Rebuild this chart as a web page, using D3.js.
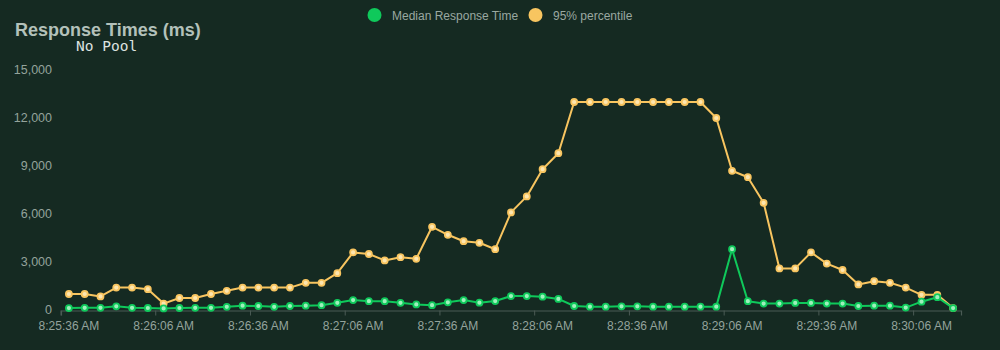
<!DOCTYPE html>
<html>
<head>
<meta charset="utf-8">
<script src="https://cdn.jsdelivr.net/npm/d3@7/dist/d3.min.js"></script>
<style>
  html, body { margin: 0; padding: 0; background: #152a22; }
  svg { display: block; }
  text { font-family: "Liberation Sans", Arial, Helvetica, sans-serif; }
</style>
</head>
<body>
<svg id="chart" width="1000" height="350"></svg>
<script>
// Sample timestamps (one sample every 5 seconds), used as categories
const times = [
  "08:25:36","08:25:41","08:25:46","08:25:51","08:25:56","08:26:01","08:26:06","08:26:11",
  "08:26:16","08:26:21","08:26:26","08:26:31","08:26:36","08:26:41","08:26:46","08:26:51",
  "08:26:56","08:27:01","08:27:06","08:27:11","08:27:16","08:27:21","08:27:26","08:27:31",
  "08:27:36","08:27:41","08:27:46","08:27:51","08:27:56","08:28:01","08:28:06","08:28:11",
  "08:28:16","08:28:21","08:28:26","08:28:31","08:28:36","08:28:41","08:28:46","08:28:51",
  "08:28:56","08:29:01","08:29:06","08:29:11","08:29:16","08:29:21","08:29:26","08:29:31",
  "08:29:36","08:29:41","08:29:46","08:29:51","08:29:56","08:30:01","08:30:06","08:30:11",
  "08:30:16"
];

// Median response time (ms)
const median = [
  120, 135, 135, 230, 135, 125, 100, 125, 135, 135, 200, 270, 250, 200, 250, 270,
  300, 450, 620, 550, 550, 450, 350, 300, 480, 620, 460, 560, 870, 870, 830, 690,
  250, 210, 210, 230, 230, 210, 210, 210, 210, 210, 3800, 550, 400, 400, 440, 440,
  400, 400, 250, 270, 270, 150, 520, 800, 120
];

// 95th percentile response time (ms)
const p95 = [
  1000, 1000, 850, 1400, 1400, 1300, 400, 750, 750, 1000, 1200, 1400, 1400, 1400, 1400, 1700,
  1700, 2300, 3600, 3500, 3100, 3300, 3200, 5200, 4700, 4300, 4200, 3800, 6100, 7100, 8800, 9800,
  13000, 13000, 13000, 13000, 13000, 13000, 13000, 13000, 13000, 12000, 8700, 8300, 6700, 2600, 2600, 3600,
  2900, 2500, 1600, 1800, 1700, 1400, 950, 950, 120
];

const yTicks = [0, 3000, 6000, 9000, 12000, 15000];
const xTickLabels = ["08:25:36","08:26:06","08:26:36","08:27:06","08:27:36","08:28:06","08:28:36","08:29:06","08:29:36","08:30:06"];

const seriesNames = ["Median Response Time", "95% percentile"];
const seriesColors = ["#0fc95b", "#f8c560"];
const markerFills = ["#9ff0bd", "#fde6b0"];

const parse = d3.timeParse("%H:%M:%S");
const fmt = d3.timeFormat("%-I:%M:%S %p");
const svg = d3.select("#chart");

const margin = { left: 61, right: 39, top: 70, bottom: 40 };
const W = 1000, H = 350;

// Category axis: each sample owns a band, marks sit at the band centre
const x = d3.scaleBand()
  .domain(times)
  .range([margin.left, W - margin.right])
  .padding(0);
const bw = x.bandwidth();
const cx = t => x(t) + bw / 2;

const y = d3.scaleLinear()
  .domain([0, 15000])
  .range([H - margin.bottom, margin.top]);

// Title and subtitle
svg.append("text")
  .attr("x", 15).attr("y", 36)
  .attr("fill", "#b3c1ba")
  .attr("font-size", 18)
  .attr("font-weight", "bold")
  .text("Response Times (ms)");

svg.append("text")
  .attr("x", 76).attr("y", 51)
  .attr("fill", "#dde3e0")
  .attr("font-size", 14.5)
  .style("font-family", "'DejaVu Sans Mono', 'Liberation Mono', monospace")
  .text("No Pool");

// Legend
const legendItems = [
  { cx: 374.5, tx: 392, name: seriesNames[0], color: seriesColors[0] },
  { cx: 535.5, tx: 553, name: seriesNames[1], color: seriesColors[1] }
];
const lg = svg.append("g");
legendItems.forEach(it => {
  lg.append("circle").attr("cx", it.cx).attr("cy", 15).attr("r", 7).attr("fill", it.color);
  lg.append("text").attr("x", it.tx).attr("y", 19.5)
    .attr("fill", "#9aa8a1").attr("font-size", 12).text(it.name);
});

// Y axis (labels only)
const yAxis = d3.axisLeft(y)
  .tickValues(yTicks)
  .tickSize(0)
  .tickPadding(9)
  .tickFormat(d3.format(","));
const gy = svg.append("g")
  .attr("transform", `translate(${margin.left},0)`)
  .call(yAxis);
gy.select(".domain").remove();
gy.selectAll("text")
  .attr("fill", "#94a39c")
  .attr("font-size", 12.5)
  .attr("dy", "0.25em")
  .style("font-family", "'Liberation Sans', Arial, sans-serif");

// X axis: labels centred on their band, tick marks on the band's left edge
const xAxis = d3.axisBottom(x)
  .tickValues(xTickLabels)
  .tickSizeInner(5)
  .tickSizeOuter(5)
  .tickPadding(6)
  .tickFormat(d => fmt(parse(d)));
const gx = svg.append("g")
  .attr("transform", `translate(0,${y(0) + 0.5})`)
  .call(xAxis);
gx.select(".domain").attr("stroke", "#4b5b55").attr("stroke-width", 1.2);
gx.selectAll(".tick line")
  .attr("stroke", "#4b5b55")
  .attr("x1", -bw / 2).attr("x2", -bw / 2);
gx.selectAll("text")
  .attr("fill", "#94a39c")
  .attr("font-size", 12)
  .style("font-family", "'Liberation Sans', Arial, sans-serif");

// Lines and markers
const line = d3.line()
  .x((d, i) => cx(times[i]))
  .y(d => y(d));

[p95, median].forEach((vals, j) => {
  const idx = j === 0 ? 1 : 0;
  const g = svg.append("g");
  g.append("path")
    .datum(vals)
    .attr("fill", "none")
    .attr("stroke", seriesColors[idx])
    .attr("stroke-width", 2)
    .attr("stroke-linejoin", "round")
    .attr("d", line);
  g.selectAll("circle")
    .data(vals)
    .join("circle")
    .attr("cx", (d, i) => cx(times[i]))
    .attr("cy", d => y(d))
    .attr("r", 3)
    .attr("fill", markerFills[idx])
    .attr("stroke", seriesColors[idx])
    .attr("stroke-width", 1.8);
});
</script>
</body>
</html>
